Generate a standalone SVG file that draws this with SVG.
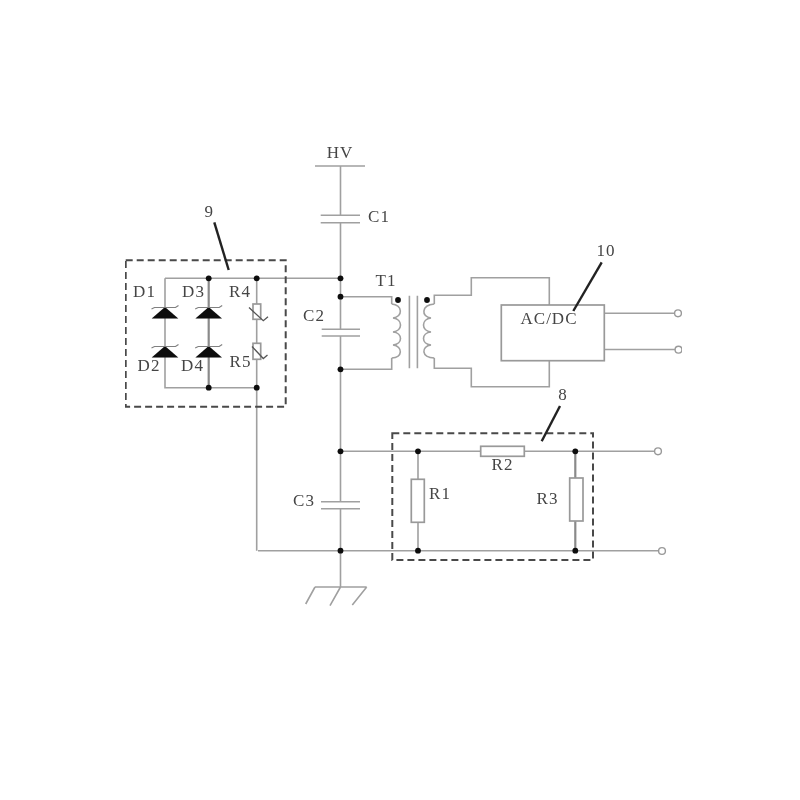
<svg xmlns="http://www.w3.org/2000/svg" width="800" height="800" viewBox="0 0 800 800">
<style>
.w{fill:none;stroke:#a0a0a0;stroke-width:1.6}
.d{fill:none;stroke:#8a8a8a;stroke-width:2.200}
.b{fill:#fff;stroke:#999;stroke-width:1.700}
.dash{fill:none;stroke:#4a4a4a;stroke-width:2;stroke-dasharray:7 4}
.lead{fill:none;stroke:#222;stroke-width:2.400}
.t{font-family:"Liberation Serif","DejaVu Serif",serif;font-size:17px;fill:#454545;text-anchor:middle;letter-spacing:1px}
.k{fill:#0c0c0c}
.o{fill:#fff;stroke:#999;stroke-width:1.400}
.tick{fill:none;stroke:#808080;stroke-width:1.200}
.v{fill:none;stroke:#555;stroke-width:1.300}
</style>
<defs>
<g id="dio"><path class="k" d="M0 0L13.300 11.500H-13.300Z"/><path class="tick" d="M-13.500 2L-10.500 .5H10.500L13.500-1.500"/></g>
<g id="dot"><circle class="k" r="2.900"/></g>
<filter id="soft" x="0" y="0" width="1" height="1"><feGaussianBlur stdDeviation="0.350"/></filter>
</defs>
<rect width="800" height="800" fill="#fff"/>
<g id="diagram" filter="url(#soft)">
<g id="connectors">
<path class="w" d="M315 166H365M340.500 166V215.300M340.500 222.700V329.300M340.500 336V501.700M340.500 508.700V587"/>
<path class="w" d="M165 278.300H340.500M165 278.300V387.700H256.700M256.700 278.300V304M256.700 319.300V343.300M256.700 359.300V550.700"/>
<path class="d" d="M208.700 278.300V387.700"/>
<path class="w" d="M340.500 296.700H391.700V304M391.700 358V369.300H340.500"/>
<path class="w" d="M434.300 304V295.300H471.300V277.700H549.300V305M549.300 360.700V386.700H471.300V368.300H434.300V358"/>
<path class="w" d="M604.300 313.300H674.500M604.300 349.500H675"/>
<path class="w" d="M340.500 451.300H480.700M524.300 451.300H654.500M258 550.700H658.500M418 451.300V479.300M418 522.300V550.700"/>
<path class="d" d="M575.300 451.300V478M575.300 521V550.700"/>
<path class="w" d="M315 587H366.700M315 587L305.700 604M340.500 587L330 605.700M366.700 587L352.300 605"/>
</g>
<g id="C1"><path class="w" d="M320.700 215.300H360M320.700 222.700H360"/><text class="t" x="379" y="221.700">C1</text></g>
<g id="HV"><text class="t" x="340" y="157.700">HV</text></g>
<g id="C2"><path class="w" d="M321.700 329.300H360M321.700 336H360"/><text class="t" x="314" y="320.700">C2</text></g>
<g id="C3"><path class="w" d="M321 501.700H360M321 508.700H360"/><text class="t" x="304" y="506">C3</text></g>
<g id="junctions">
<use href="#dot" x="208.700" y="278.300"/><use href="#dot" x="256.700" y="278.300"/><use href="#dot" x="340.500" y="278.300"/>
<use href="#dot" x="340.500" y="296.700"/><use href="#dot" x="340.500" y="369.300"/><use href="#dot" x="208.700" y="387.700"/><use href="#dot" x="256.700" y="387.700"/>
<use href="#dot" x="340.500" y="451.300"/><use href="#dot" x="418" y="451.300"/><use href="#dot" x="575.300" y="451.300"/>
<use href="#dot" x="340.500" y="550.700"/><use href="#dot" x="418" y="550.700"/><use href="#dot" x="575.300" y="550.700"/>
</g>
<g id="group9">
<rect class="dash" x="125.700" y="260.300" width="160" height="146.400"/>
<path class="lead" d="M214.300 222.300L228.700 270"/>
<text class="t" x="209.300" y="217.300">9</text>
</g>
<g id="D1"><use href="#dio" x="165" y="307"/><text class="t" x="144.500" y="297">D1</text></g>
<g id="D3"><use href="#dio" x="208.700" y="307"/><text class="t" x="193.500" y="297">D3</text></g>
<g id="D2"><use href="#dio" x="165" y="346"/><text class="t" x="149" y="370.700">D2</text></g>
<g id="D4"><use href="#dio" x="208.700" y="346"/><text class="t" x="192.500" y="370.700">D4</text></g>
<g id="R4"><rect class="b" x="253" y="304" width="7.700" height="15.300"/><path class="v" d="M249 307.500L263.300 320.700L268 316.700"/><text class="t" x="240" y="297">R4</text></g>
<g id="R5"><rect class="b" x="253" y="343.300" width="7.700" height="16"/><path class="v" d="M252 346.500L263.300 358.500L267.500 355"/><text class="t" x="240.500" y="367">R5</text></g>
<g id="T1">
<path class="w" d="M391.700 304C403 305 403 317 393 318C403 319 403 331 393 332C403 333 403 344 393 345C403 346 403 358 391.700 358"/>
<path class="w" d="M434.300 304C421 305 421 317 431 318C421 319 421 331 431 332C421 333 421 344 431 345C421 346 421 358 434.300 358"/>
<path class="w" d="M409.400 295.700V368.300M417.400 295.700V368.300"/>
<use href="#dot" x="398" y="300"/><use href="#dot" x="427" y="300"/>
<text class="t" x="386" y="286">T1</text>
</g>
<g id="ACDC">
<rect class="b" x="501.300" y="305" width="103" height="55.700"/>
<text class="t" x="549" y="324">AC/DC</text>
<path class="lead" d="M601.700 262.300L573.300 311"/>
<text class="t" x="606" y="256">10</text>
<circle class="o" cx="678" cy="313.300" r="3.400"/><circle class="o" cx="678.500" cy="349.700" r="3.400"/>
</g>
<g id="group8">
<rect class="dash" x="392.300" y="433.300" width="200.700" height="126.700"/>
<path class="lead" d="M560 406L541.700 441.300"/>
<text class="t" x="563" y="400">8</text>
<circle class="o" cx="658" cy="451.300" r="3.400"/><circle class="o" cx="662" cy="551" r="3.400"/>
</g>
<g id="R1"><rect class="b" x="411.300" y="479.300" width="13" height="43"/><text class="t" x="440" y="499.300">R1</text></g>
<g id="R2"><rect class="b" x="480.700" y="446.300" width="43.600" height="10"/><text class="t" x="502.500" y="470">R2</text></g>
<g id="R3"><rect class="b" x="569.700" y="478" width="13.300" height="43"/><text class="t" x="547.500" y="503.700">R3</text></g>
</g>
</svg>
